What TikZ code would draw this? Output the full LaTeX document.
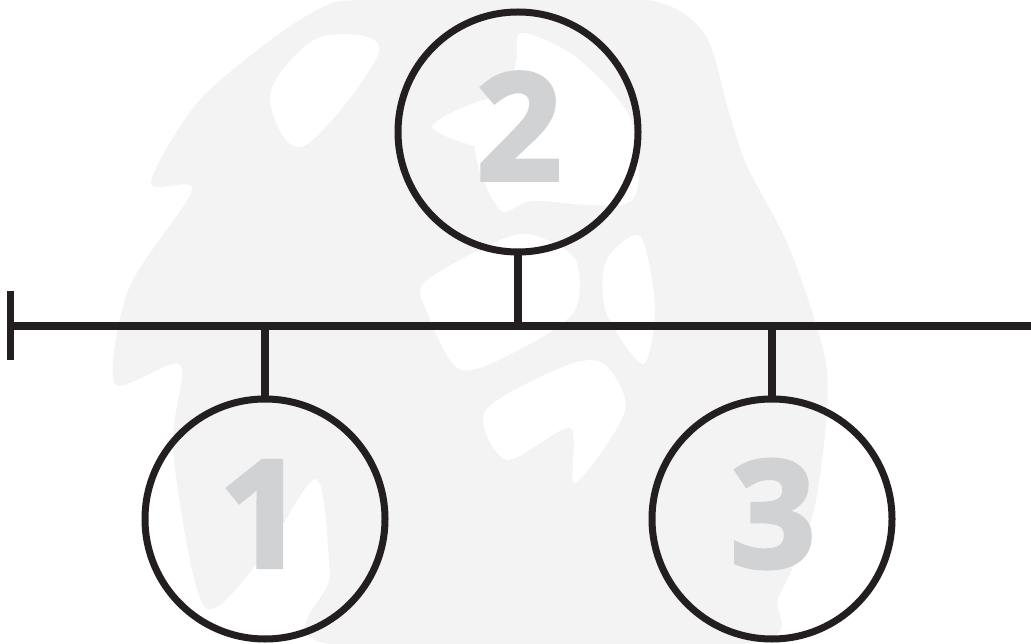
\documentclass[tikz,border=0pt]{standalone}
\usepackage{fontspec}
\newfontfamily\digitfont{Open Sans}[BoldFeatures={FakeBold=3}]
\definecolor{ink}{HTML}{231F20}
\definecolor{digit}{HTML}{D1D2D4}
\definecolor{wm}{HTML}{F3F3F3}
\begin{document}
\begin{tikzpicture}[x=1pt,y=-1pt,
  ring/.style={circle,draw=ink,line width=7pt,minimum size=240pt,inner sep=0pt},
  num/.style={inner sep=0pt,font=\digitfont\bfseries\fontsize{148}{148}\selectfont,text=digit},
  wire/.style={draw=ink,line width=7.5pt}]
\useasboundingbox (0,0) rectangle (1031,644);
% faint watermark
\fill[wm] plot[smooth cycle,tension=0.5] coordinates {
 (325,6) (360,0) (500,0) (648,0) (704,33) (728,109) (747,166) (789,247) (823,349)
 (827,411) (813,514) (779,596) (745,644) (330,644) (330,575) (316,479) (260,560)
 (204,606) (173,452) (180,365) (115,384) (129,288) (192,190) (151,183) (197,103) (272,39)};
\fill[white] plot[smooth cycle,tension=0.6] coordinates {(289,62) (328,35) (379,51) (304,146) (270,103)};
\fill[white] plot[smooth cycle,tension=0.5] coordinates {(528,234) (575,259) (575,310) (528,345) (461,370) (427,312) (424,283) (485,247)};
\fill[white] plot[smooth cycle,tension=0.5] coordinates {(485,411) (565,366) (604,364) (625,411) (575,483) (570,428) (507,460)};
\fill[white] plot[smooth cycle,tension=0.5] coordinates {(606,261) (640,236) (655,308) (643,364) (606,312)};
\fill[white] plot[smooth cycle,tension=0.5] coordinates {(521,33) (577,58) (631,120) (631,201) (533,201) (500,210) (475,144) (514,70)};
\fill[white] plot[smooth cycle,tension=0.5] coordinates {(432,127) (488,99) (535,112) (493,148)};
% diagram
\node[ring] (c2) at (518,132) {};
\node[ring] (c1) at (265,519) {};
\node[ring] (c3) at (772,519) {};
\node[num] (n2) at (519,126) {2};
\node[num] (n1) at (262,514) {1};
\node[num] (n3) at (773,514) {3};
\coordinate (L) at (10.5,326);
\coordinate (R) at (1031,326);
\coordinate (T1) at (10.5,291);
\coordinate (T2) at (10.5,360);
\draw[wire] (L) -- (R);
\draw[wire] (T1) -- (T2);
\draw[wire] (c2.south) -- (c2.south |- L);
\draw[wire] (c1.north) -- (c1.north |- L);
\draw[wire] (c3.north) -- (c3.north |- L);
\end{tikzpicture}
\end{document}
